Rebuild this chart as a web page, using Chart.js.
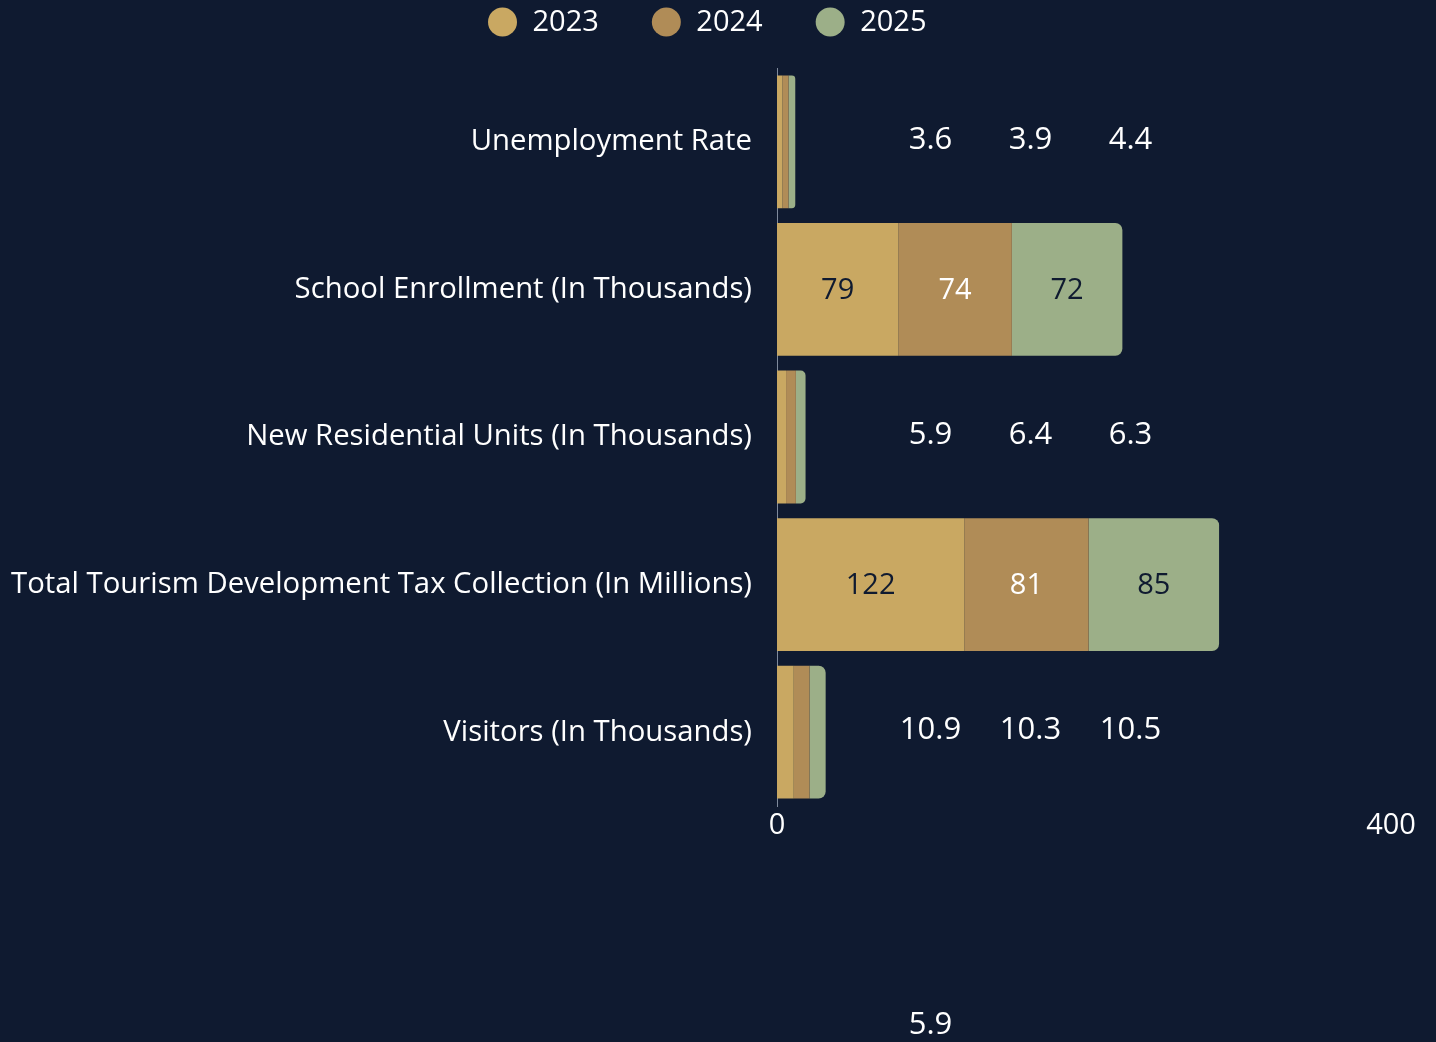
<!DOCTYPE html>
<html><head><meta charset="utf-8">
<script src="https://cdn.jsdelivr.net/npm/chart.js@4"></script>
<style>html,body{margin:0;padding:0;background:#0f1a30;overflow:hidden}#wrap{width:1436px;height:1042px;position:relative}</style>
</head><body><div id="wrap"><canvas id="c"></canvas></div>
<script>
const categories = ['Unemployment Rate','School Enrollment (In Thousands)','New Residential Units (In Thousands)','Total Tourism Development Tax Collection (In Millions)','Visitors (In Thousands)'];
const seriesNames = ['2023','2024','2025'];
const values2023 = [3.6, 79, 5.9, 122, 10.9];
const values2024 = [3.9, 74, 6.4, 81, 10.3];
const values2025 = [4.4, 72, 6.3, 85, 10.5];
const xTickValues = [0, 400];
const strayLabel = {series: 0, category: 2};

const colors = ['#c9a862', '#b08c57', '#9caf88'];
const insideText = ['#0f1a30', '#ffffff', '#0f1a30'];
const FONT = '"Open Sans", "Noto Sans", sans-serif';
const FS = 29;
const FS_Y = 29.3;
const FS_OUT = 31;

const legendPlugin = {
  id: 'customLegend',
  afterDraw(chart) {
    const ctx = chart.ctx;
    ctx.save();
    ctx.font = FS + 'px ' + FONT;
    ctx.textBaseline = 'middle';
    ctx.textAlign = 'left';
    const r = 14.5, textGap = 30, itemGap = 53, cy = 22;
    const widths = seriesNames.map(s => ctx.measureText(s).width);
    let total = 0;
    widths.forEach((w, i) => { total += r + textGap + w + (i < widths.length - 1 ? itemGap + r : 0); });
    total += r;
    let x = (chart.width - total) / 2 + 11;
    seriesNames.forEach((s, i) => {
      const cx = x + r;
      ctx.beginPath(); ctx.arc(cx, cy, r, 0, Math.PI * 2);
      ctx.fillStyle = colors[i]; ctx.fill();
      ctx.fillStyle = '#ffffff';
      ctx.fillText(s, cx + textGap, cy + 1);
      x = cx + textGap + widths[i] + itemGap;
    });
    ctx.restore();
  }
};

const labelPlugin = {
  id: 'valueLabels',
  afterDatasetsDraw(chart) {
    const ctx = chart.ctx, xs = chart.scales.x;
    ctx.save();
    ctx.textAlign = 'center';
    ctx.textBaseline = 'middle';
    chart.data.datasets.forEach((ds, di) => {
      const meta = chart.getDatasetMeta(di);
      meta.data.forEach((bar, i) => {
        const v = ds.data[i];
        const w = Math.abs(bar.x - bar.base);
        if (w > 40) {
          ctx.font = FS + 'px ' + FONT;
          ctx.fillStyle = insideText[di];
          ctx.fillText(String(v), (bar.x + bar.base) / 2, bar.y + 1);
        } else {
          ctx.font = FS_OUT + 'px ' + FONT;
          ctx.fillStyle = '#ffffff';
          ctx.fillText(String(v), xs.getPixelForValue(100) + di * 100, bar.y - 2);
        }
      });
    });
    const sv = chart.data.datasets[strayLabel.series].data[strayLabel.category];
    ctx.font = FS_OUT + 'px ' + FONT;
    ctx.fillStyle = '#ffffff';
    ctx.fillText(String(sv), xs.getPixelForValue(100), chart.height - 17);
    ctx.restore();
  }
};

const datasets = [values2023, values2024, values2025].map((vals, i) => ({
  label: seriesNames[i],
  data: vals,
  backgroundColor: colors[i],
  borderWidth: 0,
  borderRadius: i === 2 ? 7 : 0,
  borderSkipped: 'start',
  barPercentage: 0.9,
  categoryPercentage: 1.0
}));

new Chart(document.getElementById('c'), {
  type: 'bar',
  data: { labels: categories, datasets },
  plugins: [legendPlugin, labelPlugin],
  options: {
    indexAxis: 'y',
    responsive: true,
    maintainAspectRatio: false,
    animation: false,
    layout: { padding: { top: 68, left: 10, right: 45, bottom: 202 } },
    plugins: { legend: { display: false }, tooltip: { enabled: false } },
    scales: {
      x: {
        stacked: true,
        min: xTickValues[0],
        max: xTickValues[xTickValues.length - 1],
        afterBuildTicks(scale) { scale.ticks = xTickValues.map(v => ({ value: v })); },
        grid: { display: false, drawTicks: false },
        border: { display: false },
        ticks: { color: '#ffffff', font: { size: FS, family: FONT }, padding: 2, maxRotation: 0, autoSkip: false },
        afterFit(scale) { scale.height = 34; }
      },
      y: {
        stacked: true,
        grid: { display: false, drawTicks: false },
        border: { display: true, color: '#7f8a9c', width: 1 },
        ticks: { color: '#ffffff', font: { size: FS_Y, family: FONT }, padding: 25, autoSkip: false },
        afterFit(scale) { scale.width = 767; }
      }
    }
  }
});
</script>
</body></html>
